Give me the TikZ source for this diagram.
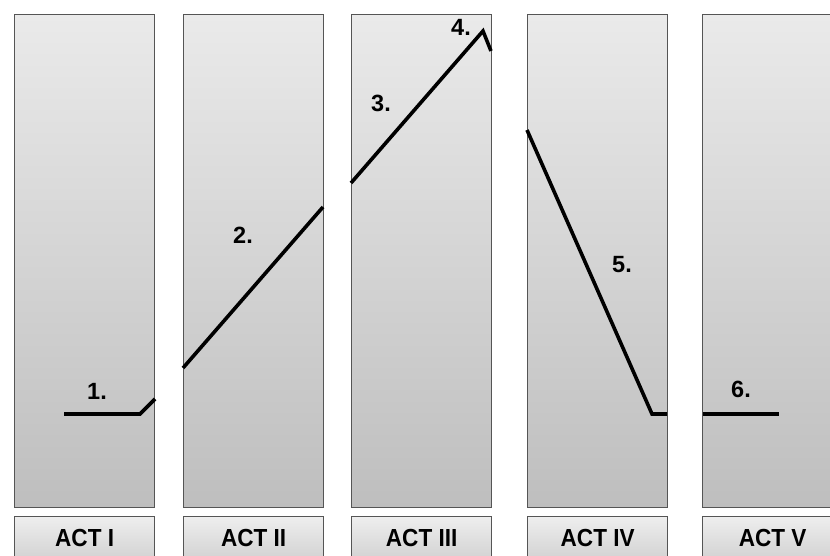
\documentclass[tikz,border=0pt]{standalone}
\usepackage{fontspec}
\setmainfont{Liberation Sans}
\definecolor{pantop}{RGB}{234,234,234}
\definecolor{panbot}{RGB}{190,190,190}
\definecolor{labtop}{RGB}{238,238,238}
\definecolor{labbot}{RGB}{208,208,208}
\definecolor{edge}{RGB}{85,85,85}
\begin{document}
\begin{tikzpicture}[x=1pt,y=-1pt,
  panel/.style={draw=edge,line width=1.3pt,top color=pantop,bottom color=panbot,inner sep=0pt,minimum width=140pt,minimum height=493pt,anchor=north west},
  actbox/.style={draw=edge,line width=1.3pt,top color=labtop,bottom color=labbot,inner sep=0pt,minimum width=140pt,minimum height=46pt,anchor=north west},
  acttext/.style={font=\fontsize{23.5}{27}\selectfont\bfseries,xscale=0.96,yscale=1.05},
  plot/.style={line width=3.6pt,line cap=butt,line join=miter},
  num/.style={font=\fontsize{23.5}{27}\selectfont\bfseries,inner sep=0pt}]
\useasboundingbox (0,0) rectangle (830,556);
\clip (0,0) rectangle (830,556);
\fill[white] (0,0) rectangle (830,556);
\foreach \i/\x/\t in {1/14/ACT I,2/183/ACT II,3/351/ACT III,4/527/ACT IV,5/702/ACT V}{
  \node[panel] (p\i) at (\x,14) {};
  \node[actbox] (a\i) at (\x,516) {};
  \node[acttext,inner sep=0pt] (t\i) at (a\i.center |- 0,538.5) {\t};
}
\coordinate (s1) at (64,414);
\coordinate (k1) at (140,414);
\coordinate (e1) at (155,399);
\coordinate (s2) at (183,368);
\coordinate (e2) at (323,207);
\coordinate (s3) at (351,183);
\coordinate (k3) at (483,31);
\coordinate (e3) at (491,51);
\coordinate (s5) at (527,130);
\coordinate (k5) at (652,414);
\coordinate (e5) at (667,414);
\coordinate (s6) at (703,414);
\coordinate (e6) at (779,414);
\draw[plot] (s1) -- (k1) -- (e1);
\draw[plot] (s2) -- (e2);
\draw[plot] (s3) -- (k3) -- (e3);
\draw[plot] (s5) -- (k5) -- (e5);
\draw[plot] (s6) -- (e6);
\node[num] (n1) at (97,391) {1.};
\node[num] (n2) at (243,235) {2.};
\node[num] (n3) at (381,103) {3.};
\node[num] (n4) at (461,27) {4.};
\node[num] (n5) at (622,264.5) {5.};
\node[num] (n6) at (741,389) {6.};
\end{tikzpicture}
\end{document}
